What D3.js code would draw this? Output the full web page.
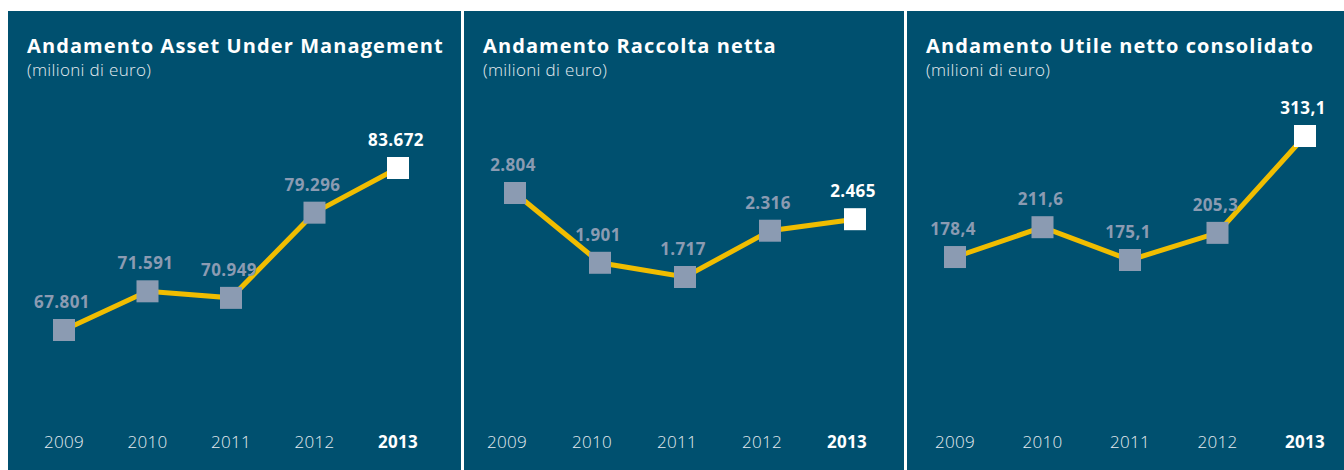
<!DOCTYPE html>
<html>
<head>
<meta charset="utf-8">
<script src="https://cdn.jsdelivr.net/npm/d3@7"></script>
<style>
  body { margin: 0; background: #fff; }
  svg { display: block; font-family: "Open Sans", "Noto Sans", sans-serif; }
</style>
</head>
<body>
<svg class="charts" width="1344" height="470"></svg>
<script>
// data
const years = ['2009', '2010', '2011', '2012', '2013']
const aumValues = [67801, 71591, 70949, 79296, 83672]
const raccoltaValues = [2804, 1901, 1717, 2316, 2465]
const utileValues = [178.4, 211.6, 175.1, 205.3, 313.1]
const titles = [
  'Andamento Asset Under Management',
  'Andamento Raccolta netta',
  'Andamento Utile netto consolidato'
]
const subtitle = '(milioni di euro)'

const BG = '#00506f'
const LINE = '#f0bd00'
const MARKER = '#8b9bb2'
const MARKER_SIZE = 22

const it = d3.formatLocale({ decimal: ',', thousands: '.', grouping: [3], currency: ['€', ''] })

// panel layout
const panels = [
  { values: aumValues, fmt: it.format(',d'), left: 8, right: 461, xr: [64, 398], yr: [330, 168], yearDx: 0 },
  { values: raccoltaValues, fmt: it.format(',d'), left: 464, right: 904, xr: [515, 855], yr: [277, 193], yearDx: -8 },
  { values: utileValues, fmt: it.format(',.1f'), left: 907, right: 1344, xr: [955, 1305], yr: [260, 136], yearDx: 0 },
]

const svg = d3.select('svg.charts')

panels.forEach((p, i) => {
  const g = svg.append('g').attr('class', `panel panel-${i}`)
  const last = years.length - 1

  g.append('rect')
    .attr('x', p.left)
    .attr('y', 11)
    .attr('width', p.right - p.left)
    .attr('height', 470 - 11)
    .style('fill', BG)

  const tx = p.left + 19
  g.append('text')
    .attr('x', tx)
    .attr('y', 53)
    .text(titles[i])
    .style('fill', '#fff')
    .style('font-size', '20px')
    .style('letter-spacing', '1.1px')
    .style('font-weight', 700)

  g.append('text')
    .attr('x', tx)
    .attr('y', 76)
    .text(subtitle)
    .style('fill', '#e6ecf0')
    .style('font-size', '17px')
    .style('letter-spacing', '0.35px')
    .style('font-weight', 300)

  const x = d3.scalePoint().domain(years).range(p.xr)
  const y = d3.scaleLinear().domain(d3.extent(p.values)).range(p.yr)
  const rows = years.map((yr, j) => ({ year: yr, value: p.values[j], last: j === last }))

  g.append('path')
    .datum(rows)
    .attr('d', d3.line().x(d => x(d.year)).y(d => y(d.value)))
    .style('fill', 'none')
    .style('stroke', LINE)
    .style('stroke-width', 5)

  g.selectAll('.marker')
    .data(rows)
    .enter()
    .append('rect')
    .attr('class', 'marker')
    .attr('x', d => x(d.year) - MARKER_SIZE / 2)
    .attr('y', d => y(d.value) - MARKER_SIZE / 2)
    .attr('width', MARKER_SIZE)
    .attr('height', MARKER_SIZE)
    .style('fill', d => d.last ? '#fff' : MARKER)

  g.selectAll('.value')
    .data(rows)
    .enter()
    .append('text')
    .attr('class', 'value')
    .attr('x', d => x(d.year) - 2)
    .attr('y', d => y(d.value) - 22)
    .text(d => p.fmt(d.value))
    .style('text-anchor', 'middle')
    .style('font-size', '17px')
    .style('letter-spacing', '0.4px')
    .style('font-weight', 700)
    .style('fill', d => d.last ? '#fff' : MARKER)

  g.selectAll('.year')
    .data(rows)
    .enter()
    .append('text')
    .attr('class', 'year')
    .attr('x', d => x(d.year) + p.yearDx)
    .attr('y', 448)
    .text(d => d.year)
    .style('text-anchor', 'middle')
    .style('font-size', '17px')
    .style('letter-spacing', '0.3px')
    .style('font-weight', d => d.last ? 700 : 300)
    .style('fill', d => d.last ? '#fff' : '#e6ecf0')
})
</script>
</body>
</html>
